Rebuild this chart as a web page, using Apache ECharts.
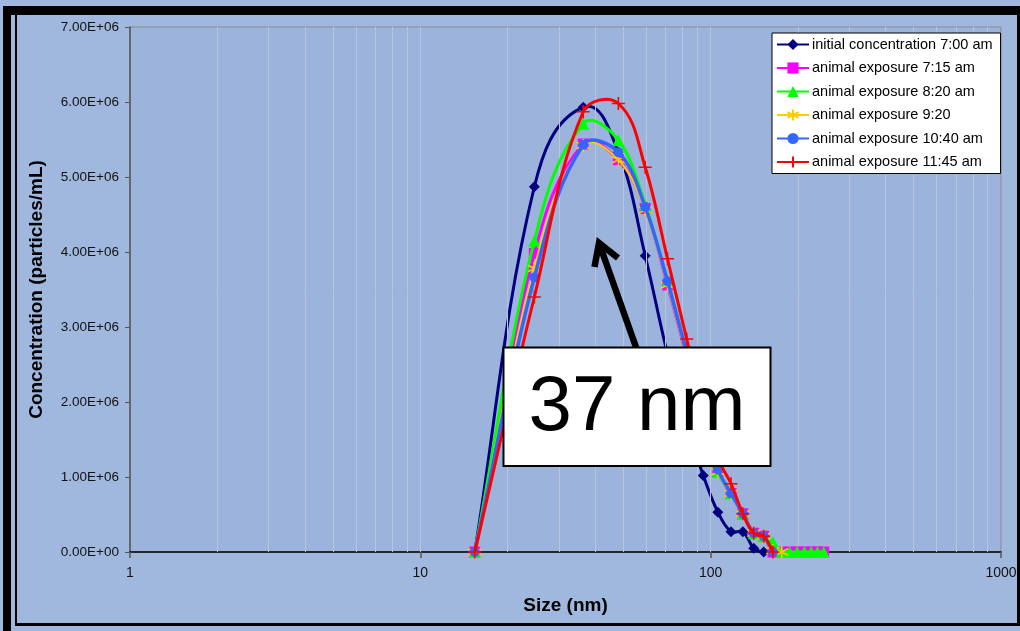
<!DOCTYPE html>
<html>
<head>
<meta charset="utf-8">
<script src="https://cdn.jsdelivr.net/npm/echarts@6/dist/echarts.min.js"></script>
<style>
  html, body { margin: 0; padding: 0; background: #a0b8de; }
  #chart { width: 1020px; height: 631px; }
</style>
</head>
<body>
<div id="chart"></div>
<script>
// Particle size bins (nm)
const sizes = [15.4, 24.7, 36.4, 48.1, 59.5, 71.0, 82.7, 94.3, 105.9, 117.5, 129.1,
               140.7, 152.3, 163.9, 175.5, 187.1, 198.7, 210.3, 221.9, 233.5, 245.1];

// Concentration per bin (particles/mL) for each sampling time
const initial0700 = [0, 4.87e6, 5.93e6, 5.33e6, 3.95e6, 2.64e6, 1.70e6, 1.02e6, 0.53e6, 0.27e6, 0.27e6,
                     0.05e6, 0, 0];
const exposure0715 = [0, 3.98e6, 5.44e6, 5.23e6, 4.58e6, 3.56e6, 2.60e6, 1.75e6, 1.07e6, 0.78e6, 0.51e6,
                      0.25e6, 0.21e6, 0, 0, 0, 0, 0, 0, 0, 0];
const exposure0820 = [0, 4.15e6, 5.71e6, 5.49e6, 4.63e6, 3.62e6, 2.65e6, 1.75e6, 1.07e6, 0.78e6, 0.51e6,
                      0.25e6, 0.21e6, 0.13e6, 0, 0, 0, 0, 0, 0, 0];
const exposure0920 = [0, 3.78e6, 5.42e6, 5.23e6, 4.56e6, 3.56e6, 2.60e6, 1.75e6, 1.07e6, 0.78e6, 0.51e6,
                      0.25e6, 0.21e6, 0.02e6, 0];
const exposure1040 = [0, 3.66e6, 5.43e6, 5.33e6, 4.60e6, 3.61e6, 2.65e6, 1.80e6, 1.10e6, 0.78e6, 0.51e6,
                      0.25e6, 0.21e6, 0];
const exposure1145 = [0, 3.40e6, 5.87e6, 5.98e6, 5.13e6, 3.91e6, 2.84e6, 1.95e6, 1.25e6, 0.91e6, 0.51e6,
                      0.25e6, 0.21e6, 0];

const seriesNames = [
  'initial concentration 7:00 am',
  'animal exposure 7:15 am',
  'animal exposure 8:20 am',
  'animal exposure 9:20',
  'animal exposure 10:40 am',
  'animal exposure 11:45 am'
];

// Vertical gridlines of the logarithmic size axis
const gridValues = [2, 3, 4, 5, 6, 7, 8, 9, 10, 20, 30, 40, 50, 60, 70, 80, 90, 100,
                    200, 300, 400, 500, 600, 700, 800, 900];

const FONT = '"Liberation Sans", Arial, Helvetica, sans-serif';

function pairs(values) {
  return values.map((v, i) => [sizes[i], v]);
}

function sci(v) {
  if (v === 0) return '0.00E+00';
  const e = Math.floor(Math.log10(Math.abs(v)) + 1e-9);
  const m = v / Math.pow(10, e);
  return m.toFixed(2) + 'E' + (e < 0 ? '-' : '+') + String(Math.abs(e)).padStart(2, '0');
}

const asterisk = 'path://M0,-10L0,10M-8.66,-5L8.66,5M-8.66,5L8.66,-5';
const plus = 'path://M-10,0L10,0M0,-10L0,10';

// Smoothed connecting curve: cubic segments whose tangents follow the
// neighbouring points, with handle length tied to the segment length.
const HANDLE = 0.35;
function unit(a, b) {
  const dx = b[0] - a[0], dy = b[1] - a[1];
  const len = Math.hypot(dx, dy);
  return len > 0 ? [dx / len, dy / len] : [0, 0];
}
function curveSeries(values, color, width, z) {
  const data = pairs(values);
  return {
    name: '_curve' + z,
    type: 'custom',
    data: data,
    clip: false,
    silent: true,
    z: z,
    renderItem: function (params, api) {
      const i = params.dataIndex;
      const n = data.length;
      if (i >= n - 1) return null;
      const pt = k => api.coord(data[Math.max(0, Math.min(n - 1, k))]);
      const p0 = pt(i - 1), p1 = pt(i), p2 = pt(i + 1), p3 = pt(i + 2);
      const d = Math.hypot(p2[0] - p1[0], p2[1] - p1[1]) * HANDLE;
      const t1 = unit(p0, p2), t2 = unit(p1, p3);
      return {
        type: 'bezierCurve',
        shape: {
          x1: p1[0], y1: p1[1],
          x2: p2[0], y2: p2[1],
          cpx1: p1[0] + t1[0] * d, cpy1: p1[1] + t1[1] * d,
          cpx2: p2[0] - t2[0] * d, cpy2: p2[1] - t2[1] * d
        },
        style: { stroke: color, lineWidth: width, fill: null, lineCap: 'round' }
      };
    }
  };
}

// Marker series (carries the legend entry)
function markerSeries(name, values, color, symbol, size, width, z, extraItem) {
  return {
    name: name,
    type: 'line',
    data: pairs(values),
    clip: false,
    symbol: symbol,
    symbolSize: size,
    showAllSymbol: true,
    lineStyle: { color: color, width: width, opacity: 0 },
    itemStyle: Object.assign({ color: color }, extraItem || {}),
    emphasis: { disabled: true },
    z: z
  };
}

const styles = [
  { values: initial0700,  color: '#000080', symbol: 'diamond',  size: 11, width: 3 },
  { values: exposure0715, color: '#ff00ff', symbol: 'rect',     size: 11, width: 3 },
  { values: exposure0820, color: '#00ff00', symbol: 'triangle', size: 12, width: 3 },
  { values: exposure0920, color: '#ffcc00', symbol: asterisk,   size: 13, width: 2.2,
    extra: { borderColor: '#ffcc00', borderWidth: 1.5 } },
  { values: exposure1040, color: '#3366ff', symbol: 'circle',   size: 10, width: 3.5 },
  { values: exposure1145, color: '#ff0000', symbol: plus,       size: 13, width: 3,
    extra: { borderColor: '#ff0000', borderWidth: 1.6 } }
];

const series = [{
  name: '_grid',
  type: 'line',
  data: [],
  silent: true,
  z: 1,
  markLine: {
    silent: true,
    symbol: ['none', 'none'],
    label: { show: false },
    animation: false,
    lineStyle: { color: '#bac4d9', width: 1, type: 'solid' },
    emphasis: { disabled: true },
    data: gridValues.map(v => ({ xAxis: v }))
  }
}];

styles.forEach((s, k) => {
  series.push(curveSeries(s.values, s.color, s.width, 3 + k * 2));
  series.push(markerSeries(seriesNames[k], s.values, s.color, s.symbol, s.size, s.width, 4 + k * 2, s.extra));
});

const chart = echarts.init(document.getElementById('chart'), null, { renderer: 'canvas' });

chart.setOption({
  animation: false,
  backgroundColor: '#a0b8de',
  textStyle: { fontFamily: FONT },
  grid: {
    left: 130, right: 19, top: 27, bottom: 79,
    show: true,
    backgroundColor: '#9cb4dc',
    borderColor: '#8a8a8a',
    borderWidth: 1,
    outerBoundsMode: 'none'
  },
  legend: {
    data: seriesNames,
    orient: 'vertical',
    left: 772,
    top: 33,
    z: 50,
    padding: [4, 8, 4, 4],
    itemWidth: 32,
    itemHeight: 14,
    itemGap: 8.5,
    backgroundColor: '#ffffff',
    borderColor: '#000000',
    borderWidth: 1,
    borderRadius: 0,
    selectedMode: false,
    lineStyle: { opacity: 1 },
    textStyle: { fontFamily: FONT, fontSize: 14.5, color: '#000000', padding: [0, 0, 0, -2] }
  },
  xAxis: {
    type: 'log',
    logBase: 10,
    min: 1,
    max: 1000,
    name: 'Size (nm)',
    nameLocation: 'middle',
    nameGap: 44,
    nameTextStyle: { fontFamily: FONT, fontSize: 19, fontWeight: 'bold', color: '#000000' },
    axisLine: { show: true, lineStyle: { color: '#000000', width: 1.5 } },
    axisTick: { show: true, length: 6, lineStyle: { color: '#555555', width: 1.5 } },
    axisLabel: {
      margin: 14, fontFamily: FONT, fontSize: 14, color: '#111111',
      formatter: v => String(Math.round(v))
    },
    splitLine: { show: false },
    minorTick: { show: false },
    minorSplitLine: { show: false }
  },
  yAxis: {
    type: 'value',
    min: 0,
    max: 7e6,
    interval: 1e6,
    name: 'Concentration (particles/mL)',
    nameLocation: 'middle',
    nameGap: 84,
    nameTextStyle: { fontFamily: FONT, fontSize: 19, fontWeight: 'bold', color: '#000000' },
    axisLine: { show: true, lineStyle: { color: '#555555', width: 1.5 } },
    axisTick: { show: true, inside: false, length: 5, lineStyle: { color: '#555555', width: 1 } },
    axisLabel: { margin: 11, fontFamily: FONT, fontSize: 13.5, color: '#111111', formatter: sci },
    splitLine: { show: false }
  },
  series: series,
  graphic: [
    // outer frame
    { type: 'rect', shape: { x: 3, y: 6, width: 8, height: 625 }, style: { fill: '#000' }, silent: true },
    { type: 'rect', shape: { x: 3, y: 6, width: 1017, height: 9 }, style: { fill: '#000' }, silent: true },
    { type: 'rect', shape: { x: 15, y: 6, width: 2, height: 620 }, style: { fill: '#000' }, silent: true },
    { type: 'rect', shape: { x: 15, y: 623, width: 1005, height: 3 }, style: { fill: '#000' }, silent: true },
    { type: 'rect', shape: { x: 1017, y: 6, width: 3, height: 620 }, style: { fill: '#000' }, silent: true },
    // arrow pointing to the peak
    {
      type: 'polyline', z: 100, silent: true,
      shape: { points: [[637, 350], [599, 243]] },
      style: { stroke: '#000', lineWidth: 6.5, fill: null }
    },
    {
      type: 'polyline', z: 100, silent: true,
      shape: { points: [[594.5, 267], [599, 243], [618, 258]] },
      style: { stroke: '#000', lineWidth: 6.5, fill: null, lineJoin: 'miter', lineCap: 'butt' }
    },
    // annotation box
    {
      type: 'rect', z: 101, silent: true,
      shape: { x: 503.5, y: 347.5, width: 267, height: 118.5 },
      style: { fill: '#ffffff', stroke: '#000000', lineWidth: 2 }
    },
    {
      type: 'text', z: 102, silent: true,
      x: 637, y: 408,
      style: {
        text: '37 nm', fontFamily: FONT, fontSize: 78, fill: '#000000',
        align: 'center', verticalAlign: 'middle'
      }
    }
  ]
});
</script>
</body>
</html>
